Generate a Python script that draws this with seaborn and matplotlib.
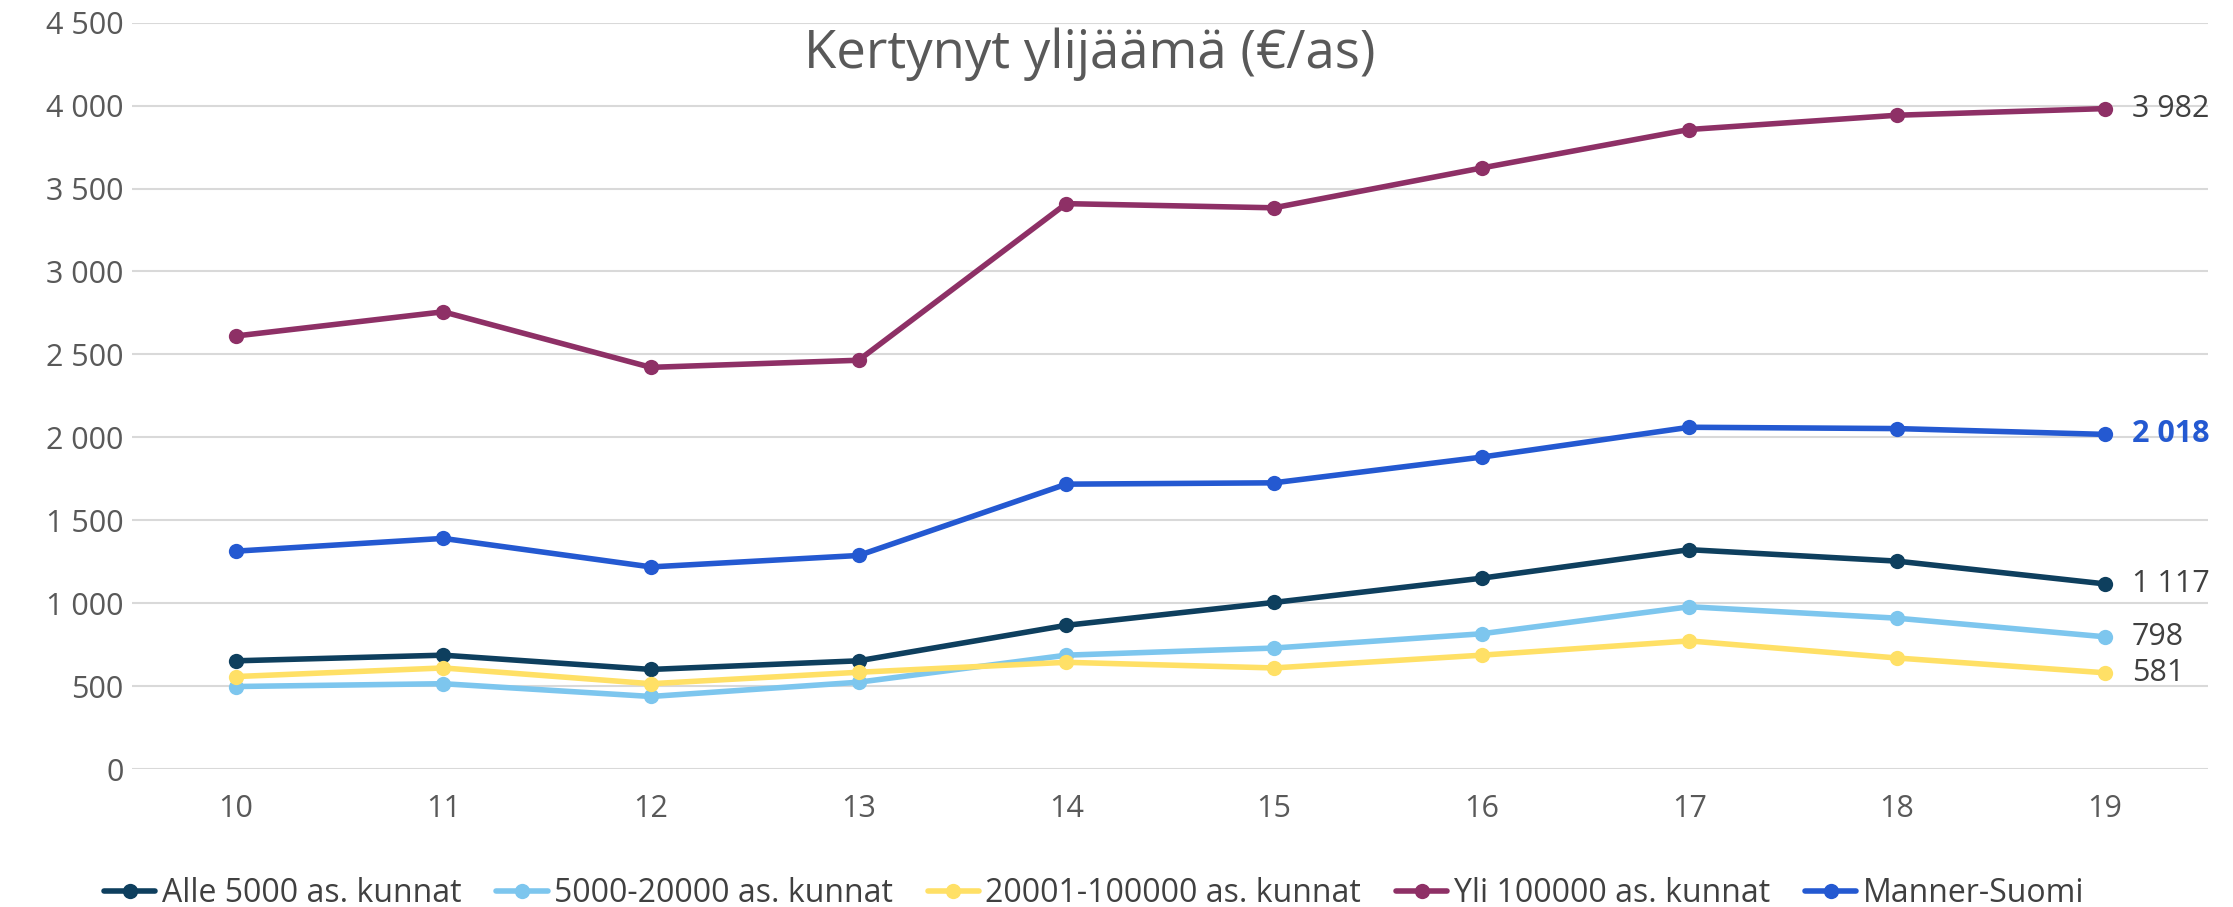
import matplotlib
matplotlib.use("Agg")
import matplotlib.pyplot as plt
import seaborn as sns
import pandas as pd

years = [10, 11, 12, 13, 14, 15, 16, 17, 18, 19]
series_names = ["Alle 5000 as. kunnat", "5000-20000 as. kunnat", "20001-100000 as. kunnat",
                "Yli 100000 as. kunnat", "Manner-Suomi"]
alle_5000 = [653, 687, 601, 653, 867, 1005, 1151, 1323, 1254, 1117]
v5000_20000 = [498, 515, 438, 524, 687, 730, 816, 979, 910, 798]
v20001_100000 = [558, 610, 515, 584, 644, 610, 687, 773, 670, 581]
yli_100000 = [2611, 2757, 2422, 2465, 3409, 3384, 3624, 3856, 3942, 3982]
manner_suomi = [1314, 1391, 1219, 1288, 1718, 1726, 1881, 2061, 2053, 2018]
colors = ["#0E3F5E", "#7DC6EE", "#FFE066", "#8E3066", "#2459D1"]
y_ticks = [0, 500, 1000, 1500, 2000, 2500, 3000, 3500, 4000, 4500]

all_values = [alle_5000, v5000_20000, v20001_100000, yli_100000, manner_suomi]
df = pd.concat([pd.DataFrame({"year": years, "value": vals, "series": name})
                for name, vals in zip(series_names, all_values)])

sns.set_theme(style="white")
plt.rcParams['font.family'] = ['Open Sans', 'DejaVu Sans']

fig = plt.figure(figsize=(22.33, 9.07), dpi=100)
ax = fig.add_axes([0.059, 0.152, 0.93, 0.823])

sns.lineplot(data=df, x="year", y="value", hue="series", hue_order=series_names,
             palette=colors, marker="o", markersize=11, markeredgewidth=0,
             linewidth=4, ax=ax, legend=True)

ax.set_xlim(9.5, 19.5)
ax.set_ylim(0, 4500)
ax.set_xticks(years)
ax.set_xticklabels([str(y) for y in years])
ax.set_yticks(y_ticks)
ax.set_yticklabels([f"{t:,}".replace(",", " ") for t in y_ticks])
ax.yaxis.grid(True, color="#D9D9D9", linewidth=1.5)
ax.set_axisbelow(True)
for s in ax.spines.values():
    s.set_visible(False)
ax.tick_params(axis="both", length=0, labelsize=22, labelcolor="#595959")
ax.tick_params(axis="x", pad=18)
ax.tick_params(axis="y", pad=6)
ax.set_xlabel("")
ax.set_ylabel("")

# end-of-line value labels
for name, vals, col in zip(series_names, all_values, colors):
    label = f"{vals[-1]:,}".replace(",", " ")
    if name == "Manner-Suomi":
        ax.text(19.13, vals[-1], label, color=col, fontsize=22, fontweight="bold", va="center")
    else:
        ax.text(19.13, vals[-1], label, color="#404040", fontsize=22, va="center")

fig.text(0.488, 0.94, "Kertynyt ylijäämä (€/as)", ha="center", va="center",
         fontsize=38, color="#595959")

handles, labels = ax.get_legend_handles_labels()
ax.get_legend().remove()
fig.legend(handles, labels, loc="center", bbox_to_anchor=(0.49, 0.015), ncol=5,
           frameon=False, fontsize=23, handlelength=1.6, handletextpad=0.2,
           columnspacing=1.1, labelcolor="#404040")

fig.savefig("out.png", dpi=100)
